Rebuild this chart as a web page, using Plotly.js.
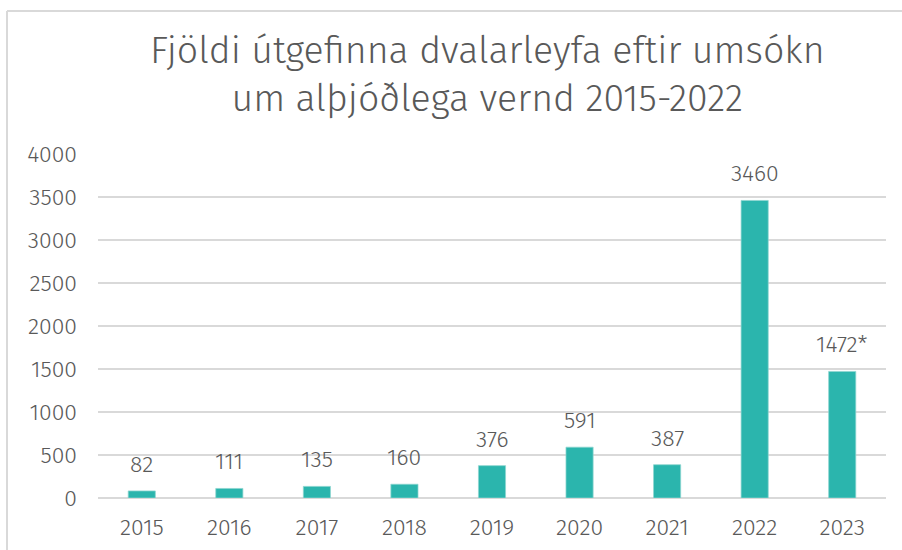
<!DOCTYPE html>
<html>
<head>
<meta charset="utf-8">
<script src="https://cdn.plot.ly/plotly-3.0.1.min.js"></script>
<style>
  html, body { margin: 0; padding: 0; background: #ffffff; }
  #chart { width: 902px; height: 550px; }
</style>
</head>
<body>
<div id="chart"></div>
<script>
const years = ['2015', '2016', '2017', '2018', '2019', '2020', '2021', '2022', '2023'];
const permits = [82, 111, 135, 160, 376, 591, 387, 3460, 1472];
const barLabels = ['82', '111', '135', '160', '376', '591', '387', '3460', '1472*'];
const yTicks = [0, 500, 1000, 1500, 2000, 2500, 3000, 3500, 4000];
const titleText = 'Fjöldi útgefinna dvalarleyfa eftir umsókn<br>um alþjóðlega vernd 2015-2022';

const fontFam = '"Fira Sans Light", "Fira Sans", "Open Sans", "Noto Sans", sans-serif';
const textColor = '#595959';

const trace = {
  type: 'bar',
  x: years,
  y: permits,
  marker: { color: '#2bb5ad', line: { color: '#8fd6d0', width: 0.75 } },
  hoverinfo: 'x+y'
};

// category index i is the position of years[i] on the category axis
const labelAnnotations = years.map((yr, i) => ({
  x: i, y: permits[i], xref: 'x', yref: 'y',
  text: barLabels[i], showarrow: false,
  xanchor: 'center', yanchor: 'bottom', yshift: 11,
  font: { family: fontFam, size: 23, color: textColor, weight: 300 }
}));

const frame = { color: '#d9d9d9', width: 2 };
const layout = {
  width: 902,
  height: 550,
  margin: { l: 98, r: 16, t: 154, b: 52 },
  paper_bgcolor: '#ffffff',
  plot_bgcolor: '#ffffff',
  bargap: 0.69,
  showlegend: false,
  font: { family: fontFam, color: textColor },
  title: {
    text: titleText,
    font: { family: fontFam, size: 37.5, color: textColor, weight: 300 },
    xref: 'paper', x: 0.494, xanchor: 'center',
    yref: 'container', y: 0.886, yanchor: 'top'
  },
  xaxis: {
    type: 'category',
    tickfont: { family: fontFam, size: 23, color: textColor, weight: 300 },
    showgrid: false, showline: false, ticks: '',
    zeroline: false,
    ticklabelstandoff: 13
  },
  yaxis: {
    range: [0, 4000],
    tickvals: yTicks,
    ticktext: yTicks.map(String),
    tickfont: { family: fontFam, size: 23, color: textColor, weight: 300 },
    showgrid: true, gridcolor: '#d9d9d9', gridwidth: 1.5,
    zeroline: true, zerolinecolor: '#d9d9d9', zerolinewidth: 1.5,
    showline: false, ticks: '',
    ticklabelstandoff: 20
  },
  annotations: labelAnnotations,
  shapes: [
    { type: 'line', xref: 'paper', yref: 'paper', x0: -0.1155, x1: -0.1155, y0: 1.4157, y1: -0.2, line: frame, layer: 'below' },
    { type: 'line', xref: 'paper', yref: 'paper', x0: -0.1155, x1: 1.05, y0: 1.4157, y1: 1.4157, line: frame, layer: 'below' }
  ]
};

Plotly.newPlot('chart', [trace], layout, { displayModeBar: false, staticPlot: true });
</script>
</body>
</html>
